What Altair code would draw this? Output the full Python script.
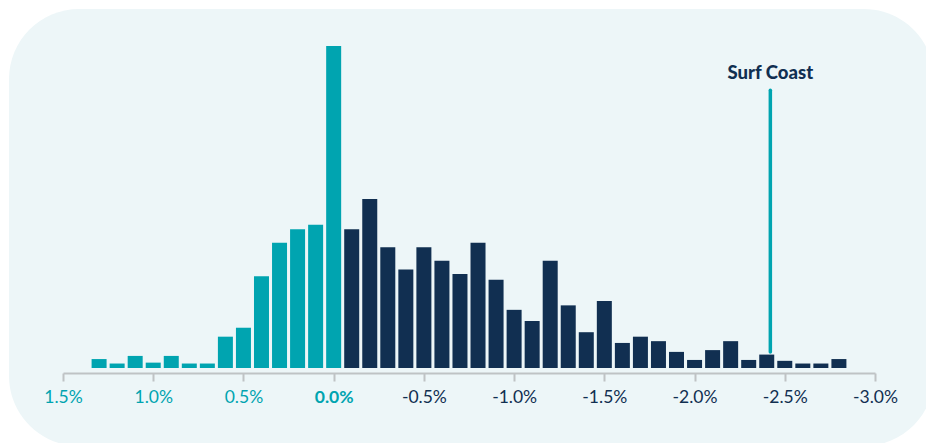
import altair as alt
import pandas as pd

# Bin centres (% change) and the number of areas in each bin
bin_centres = [1.3, 1.2, 1.1, 1.0, 0.9, 0.8, 0.7, 0.6, 0.5, 0.4, 0.3, 0.2, 0.1, 0.0,
               -0.1, -0.2, -0.3, -0.4, -0.5, -0.6, -0.7, -0.8, -0.9, -1.0,
               -1.1, -1.2, -1.3, -1.4, -1.5, -1.6, -1.7, -1.8, -1.9, -2.0,
               -2.1, -2.2, -2.3, -2.4, -2.5, -2.6, -2.7, -2.8]
counts = [2, 1, 2.7, 1.2, 2.7, 1, 1, 7, 9, 20.5, 28, 31, 32, 72,
          31, 37.8, 27, 22, 27, 24, 21, 28, 19.7, 13,
          10.5, 24, 14, 8, 15, 5.6, 7, 6, 3.6, 1.8,
          4, 6, 1.8, 3, 1.6, 1, 1, 2]

tick_values = [1.5, 1.0, 0.5, 0.0, -0.5, -1.0, -1.5, -2.0, -2.5, -3.0]

marker_label = ["Surf Coast"]
marker_value = [-2.42]
marker_bottom = [3.6]
marker_top = [62.1]
marker_label_y = [66]

TEAL = "#00A4B0"
NAVY = "#112F51"
BG = "#EDF6F8"
GREY = "#BFC3C5"

df = pd.DataFrame({"centre": bin_centres, "count": counts})
df["side"] = ["up" if c >= 0 else "down" for c in bin_centres]

ann = pd.DataFrame({"label": marker_label, "x": marker_value,
                    "y0": marker_bottom, "y1": marker_top, "ly": marker_label_y})

xscale = alt.Scale(domain=[-3.0, 1.5], reverse=True, nice=False, zero=False, padding=0)
yscale = alt.Scale(domain=[0, 76], nice=False, zero=True)

label_expr = "(datum.value < 0 ? '-' : '') + format(abs(datum.value), '.1f') + '%'"

background = alt.Chart(pd.DataFrame({"a": [0]})).mark_rect(
    color=BG, cornerRadius=70
).encode(
    x=alt.value(-54), x2=alt.value(871), y=alt.value(-19), y2=alt.value(418)
)

bars = alt.Chart(df).mark_bar(width=15).encode(
    x=alt.X("centre:Q", scale=xscale,
            axis=alt.Axis(values=tick_values, labelExpr=label_expr, title=None,
                          grid=False, domainColor=GREY, domainWidth=2,
                          tickColor=GREY, tickWidth=2, tickSize=8, offset=5,
                          zindex=1, labelFlush=False, labelOverlap=False,
                          labelFont="Lato", labelFontSize=17.5, labelPadding=7,
                          labelColor={"expr": f"datum.value >= 0 ? '{TEAL}' : '{NAVY}'"},
                          labelFontWeight={"expr": "datum.value == 0 ? 'bold' : 'normal'"})),
    y=alt.Y("count:Q", scale=yscale, axis=None),
    color=alt.Color("side:N", scale=alt.Scale(domain=["up", "down"], range=[TEAL, NAVY]),
                    legend=None),
)

rule = alt.Chart(ann).mark_rule(color=TEAL, strokeWidth=3.5, strokeCap="round").encode(
    x=alt.X("x:Q", scale=xscale),
    y=alt.Y("y0:Q", scale=yscale),
    y2="y1:Q",
)

label = alt.Chart(ann).mark_text(
    font="Lato", fontSize=18.5, fontWeight=900, color=NAVY, baseline="middle", align="center"
).encode(
    x=alt.X("x:Q", scale=xscale),
    y=alt.Y("ly:Q", scale=yscale),
    text="label:N",
)

chart = alt.layer(background, bars, rule, label).properties(
    width=812, height=340,
    autosize=alt.AutoSizeParams(type="none"),
    padding={"left": 63, "top": 28, "right": 51, "bottom": 75},
    background="white",
).configure_view(stroke=None)

chart.save("out.html", embed_options={"renderer": "svg", "actions": False})
